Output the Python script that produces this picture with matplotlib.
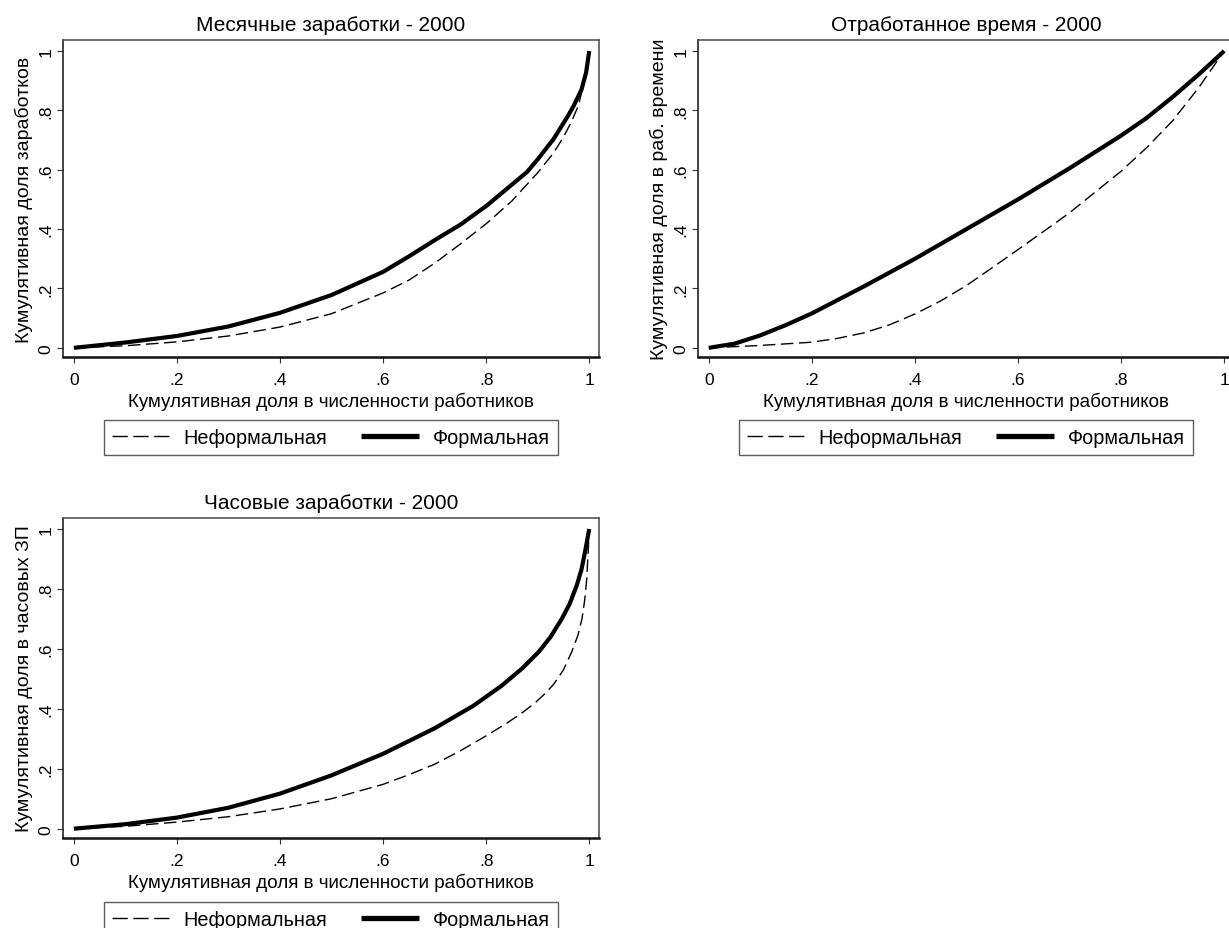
import matplotlib
matplotlib.use("Agg")
import matplotlib.pyplot as plt

plt.rcParams['font.family'] = ['Liberation Sans', 'DejaVu Sans']

# tick positions / labels (Stata style)
ticks = [0, 0.2, 0.4, 0.6, 0.8, 1]
tick_labels = ["0", ".2", ".4", ".6", ".8", "1"]

xlabel = "Кумулятивная доля в численности работников"
legend_labels = ["Неформальная", "Формальная"]

# Месячные заработки - 2000
x_inf_month = [0, .1, .2, .3, .4, .5, .6, .65, .7, .75, .8, .85, .9, .93, .95, .965, .979, .99, 1]
y_inf_month = [0, .007, .02, .04, .07, .115, .185, .228, .285, .35, .418, .495, .59, .655, .71, .76, .816, .895, 1]
x_for_month = [0, .1, .2, .3, .4, .5, .6, .65, .704, .75, .801, .85, .879, .9, .931, .96, .97, .985, .994, 1]
y_for_month = [0, .018, .04, .072, .118, .178, .256, .308, .367, .415, .479, .55, .592, .635, .704, .785, .816, .87, .928, 1]

# Отработанное время - 2000
x_inf_time = [0, .1, .2, .25, .3, .35, .4, .45, .5, .55, .6, .656, .7, .75, .8, .85, .9, .95, 1]
y_inf_time = [0, .008, .019, .032, .05, .077, .114, .158, .21, .27, .331, .40, .455, .525, .595, .675, .765, .875, 1]
x_for_time = [0, .05, .1, .15, .2, .3, .4, .5, .6, .7, .8, .85, .9, .95, 1]
y_for_time = [0, .014, .042, .077, .116, .206, .30, .40, .50, .605, .715, .775, .845, .92, 1]

# Часовые заработки - 2000
x_inf_hour = [0, .1, .2, .3, .4, .5, .6, .65, .7, .75, .8, .84, .87, .895, .915, .931, .95, .966, .978, .986, .991, .995, .998, 1]
y_inf_hour = [0, .008, .022, .04, .066, .1, .148, .18, .215, .26, .31, .352, .387, .42, .452, .482, .53, .59, .645, .701, .76, .83, .925, 1]
x_for_hour = [0, .1, .2, .3, .4, .5, .6, .7, .775, .83, .87, .902, .925, .947, .962, .976, .985, .992, 1]
y_for_hour = [0, .015, .037, .07, .117, .178, .25, .335, .41, .477, .535, .59, .64, .701, .75, .813, .865, .925, 1]

fig = plt.figure(figsize=(12.29, 9.29), dpi=100)


def draw_panel(ax, title, ylabel, x_inf, y_inf, x_for, y_for):
    ax.plot(x_inf, y_inf, color="black", lw=1.0, dashes=(9, 4), label=legend_labels[0])
    ax.plot(x_for, y_for, color="black", lw=3.0, solid_capstyle="butt",
            solid_joinstyle="round", label=legend_labels[1])
    ax.set_xlim(-0.021, 1.019)
    ax.set_ylim(-0.031, 1.037)
    ax.set_xticks(ticks)
    ax.set_xticklabels(tick_labels)
    ax.set_yticks(ticks)
    ax.set_yticklabels(tick_labels, rotation=90, va="center")
    ax.tick_params(axis="both", direction="out", length=4, width=0.8,
                   color="#333333", labelsize=12.5)
    ax.tick_params(axis="x", pad=7)
    ax.tick_params(axis="y", pad=3)
    ax.set_title(title, fontsize=15, pad=7)
    ax.set_xlabel(xlabel, fontsize=13.5, labelpad=3)
    ax.set_ylabel(ylabel, fontsize=14, labelpad=4)
    for side in ["top", "right"]:
        ax.spines[side].set_color("#555555")
        ax.spines[side].set_linewidth(1.2)
    ax.spines["left"].set_color("#222222")
    ax.spines["left"].set_linewidth(1.2)
    ax.spines["bottom"].set_color("#111111")
    ax.spines["bottom"].set_linewidth(1.8)
    leg = ax.legend(loc="upper center", bbox_to_anchor=(0.5, -0.199), ncol=2,
                    frameon=True, fancybox=False, fontsize=14.3, borderaxespad=0,
                    handlelength=2.9, handletextpad=0.7, columnspacing=1.7,
                    borderpad=0.4)
    leg.get_frame().set_edgecolor("#333333")
    leg.get_frame().set_linewidth(1.0)
    # three whole dashes in the legend key, as in the original
    leg.get_lines()[0].set_dashes((11, 4))
    leg.get_lines()[1].set_linewidth(3.8)


ax1 = fig.add_axes([0.0513, 0.6146, 0.4361, 0.3412])
draw_panel(ax1, "Месячные заработки - 2000", "Кумулятивная доля заработков",
           x_inf_month, y_inf_month, x_for_month, y_for_month)

ax2 = fig.add_axes([0.5679, 0.6146, 0.4361, 0.3412])
draw_panel(ax2, "Отработанное время - 2000", "Кумулятивная доля в раб. времени",
           x_inf_time, y_inf_time, x_for_time, y_for_time)

ax3 = fig.add_axes([0.0513, 0.0969, 0.4361, 0.3445])
draw_panel(ax3, "Часовые заработки - 2000", "Кумулятивная доля в часовых ЗП",
           x_inf_hour, y_inf_hour, x_for_hour, y_for_hour)

plt.savefig("out.png", dpi=100)
